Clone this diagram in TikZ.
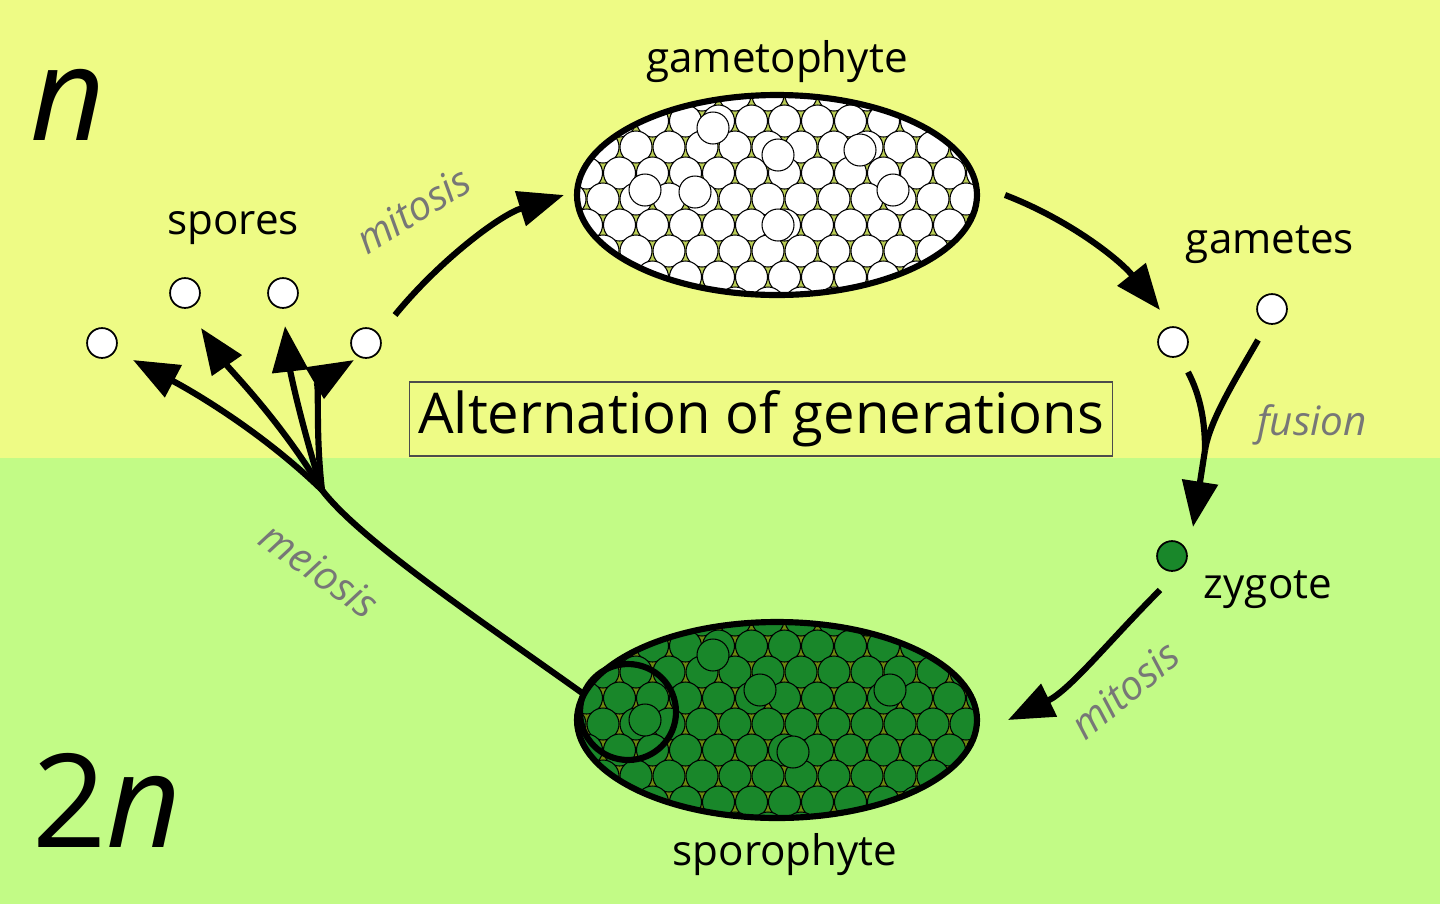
\documentclass[tikz,border=0pt]{standalone}
\usepackage{fontspec}
\setmainfont{Open Sans}
\usetikzlibrary{arrows.meta}
\definecolor{topbg}{HTML}{EEFB85}
\definecolor{botbg}{HTML}{C2FB86}
\definecolor{dgreen}{HTML}{19872A}
\definecolor{olive}{HTML}{6E8A10}
\definecolor{lbl}{HTML}{777777}
\tikzset{
 arr/.style={line width=3.5pt,-{Triangle[length=26pt,width=20pt]}},
 ln/.style={line width=3.5pt},
 cell/.style={circle,draw=black,line width=1pt,minimum size=17pt,inner sep=0pt},
 lab/.style={font=\fontsize{24}{27}\selectfont},
 proc/.style={text=lbl,font=\fontsize{23}{26}\selectfont\itshape},
}
\begin{document}
\begin{tikzpicture}[x=0.02cm,y=-0.02cm]
\useasboundingbox (0,0) rectangle (1440,904);
\fill[topbg] (0,0) rectangle (1440,458);
\fill[botbg] (0,458) rectangle (1440,904);
\node[font=\fontsize{74}{80}\selectfont\itshape] (n) at (68,105) {n};
\node[font=\fontsize{74}{80}\selectfont] (nn) at (107,800) {2\textit{n}};
% gametophyte
\begin{scope}
\clip (777,195) ellipse (200 and 100);
\fill[olive!40!topbg] (777,195) ellipse (200 and 100);
\foreach \r in {0,...,8}{
 \foreach \c in {0,...,13}{
  \pgfmathsetmacro\xx{570+\c*33+mod(\r,2)*16.5}
  \pgfmathsetmacro\yy{95+\r*26}
  \filldraw[fill=white,draw=black,line width=0.6pt] (\xx,\yy) circle (16);
 }}
\foreach \p in {(713,128),(778,155),(645,190),(695,192),(893,190),(778,225),(860,150)}
  \filldraw[fill=white,draw=black,line width=0.6pt] \p circle (16);
\end{scope}
\draw[line width=3.5pt] (777,195) ellipse (200 and 100);
\node[lab] (gt) at (777,62) {gametophyte};
% sporophyte
\begin{scope}
\clip (777,720) ellipse (200 and 98);
\fill[olive] (777,720) ellipse (200 and 98);
\foreach \r in {0,...,8}{
 \foreach \c in {0,...,13}{
  \pgfmathsetmacro\xx{570+\c*33+mod(\r,2)*16.5}
  \pgfmathsetmacro\yy{620+\r*26}
  \filldraw[fill=dgreen,draw=black,line width=0.6pt] (\xx,\yy) circle (16);
 }}
\foreach \p in {(713,655),(793,752),(645,720),(890,690),(760,690)}
  \filldraw[fill=dgreen,draw=black,line width=0.6pt] \p circle (16);
\end{scope}
\draw[line width=3.5pt] (777,720) ellipse (200 and 98);
\draw[line width=3.5pt] (628,712) circle (48);
\node[lab] (sp) at (785,855) {sporophyte};
% cells
\node[cell,fill=white] (s1) at (102,343) {};
\node[cell,fill=white] (s2) at (185,293) {};
\node[cell,fill=white] (s3) at (283,293) {};
\node[cell,fill=white] (s4) at (366,343) {};
\node[lab] (spl) at (233,228) {spores};
\node[cell,fill=white] (g1) at (1173,342) {};
\node[cell,fill=white] (g2) at (1272,309) {};
\node[lab] (gml) at (1270,245) {gametes};
\node[cell,fill=dgreen] (z) at (1172,556) {};
\node[lab] (zl) at (1268,590) {zygote};
% title
\node[draw=black!70,line width=1pt,fill=topbg,inner sep=5pt,font=\fontsize{32}{36}\selectfont] (t) at (761,419) {Alternation of generations};
% arrows
\coordinate (a1) at (395,315); \coordinate (a2) at (564,195);
\draw[arr] (a1) .. controls (440,260) and (500,215) .. (a2);
\node[proc,rotate=32] (m1) at (413,210) {mitosis};
\coordinate (b1) at (1005,195); \coordinate (b2) at (1160,310);
\draw[arr] (b1) .. controls (1070,220) and (1120,260) .. (b2);
\coordinate (f) at (1205,450); \coordinate (fe) at (1193,527);
\draw[ln] (1188,372) .. controls (1200,395) and (1205,420) .. (f);
\draw[ln] (1258,340) .. controls (1235,380) and (1210,420) .. (f);
\draw[arr] (f) -- (fe);
\node[proc] (fu) at (1312,425) {fusion};
\coordinate (c1) at (1160,590); \coordinate (c2) at (1008,720);
\draw[arr] (c1) .. controls (1110,640) and (1070,690) .. (c2);
\node[proc,rotate=40] (m2) at (1125,690) {mitosis};
\coordinate (br) at (322,490);
\draw[ln] (585,695) .. controls (480,620) and (360,540) .. (br);
\draw[arr] (br) .. controls (260,430) and (190,390) .. (133,360);
\draw[arr] (br) .. controls (280,420) and (230,370) .. (201,328);
\draw[arr] (br) .. controls (300,420) and (290,370) .. (285,326);
\draw[arr] (br) .. controls (315,430) and (320,380) .. (354,360);
\node[proc,rotate=-35] (me) at (320,570) {meiosis};
\end{tikzpicture}
\end{document}
